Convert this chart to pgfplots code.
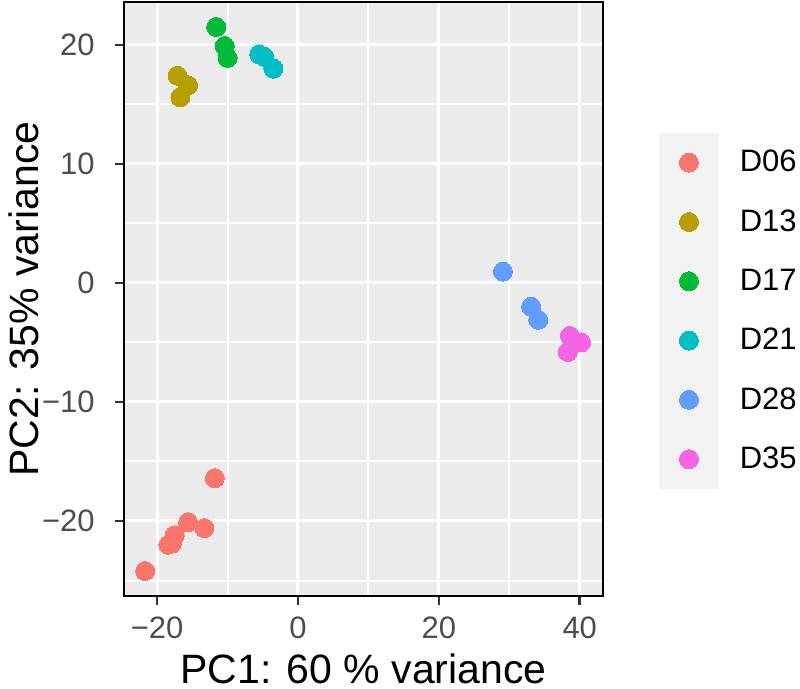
\documentclass[border=0pt]{standalone}
\usepackage{fontspec}
\setmainfont{Liberation Sans}
\usepackage{pgfplots}
\pgfplotsset{compat=1.18}
\definecolor{c1}{HTML}{F8766D}
\definecolor{c2}{HTML}{B79F00}
\definecolor{c3}{HTML}{00BA38}
\definecolor{c4}{HTML}{00BFC4}
\definecolor{c5}{HTML}{619CFF}
\definecolor{c6}{HTML}{F564E3}
\definecolor{panel}{HTML}{EBEBEB}
\definecolor{keybg}{HTML}{F2F2F2}
\definecolor{ticklab}{HTML}{4D4D4D}
\definecolor{tickc}{HTML}{333333}
\begin{document}
\begin{tikzpicture}
\useasboundingbox (-62pt,-46.5pt) rectangle (338pt,298pt);
\begin{axis}[
  at={(0pt,0pt)}, anchor=south west,
  scale only axis, width=239.5pt, height=297pt,
  xmin=-24.7, xmax=43.3, ymin=-26.3, ymax=23.6,
  axis background/.style={fill=panel},
  xtick={-20,0,20,40}, xticklabels={−20,0,20,40},
  ytick={-20,-10,0,10,20}, yticklabels={−20,−10,0,10,20},
  minor xtick={-10,10,30}, minor ytick={-25,-15,-5,5,15},
  grid=both,
  major grid style={white, line width=1.5pt},
  minor grid style={white, line width=1pt},
  tick align=outside,
  major tick length=4.5pt,
  minor tick length=0pt,
  tick style={tickc, line width=1.3pt},
  xtick pos=lower, ytick pos=left,
  axis line style={black, line width=1pt},
  xticklabel style={font=\fontsize{15.5}{15.5}\selectfont, text=ticklab, inner sep=0pt, anchor=north, yshift=-5.5pt},
  yticklabel style={font=\fontsize{15.5}{15.5}\selectfont, text=ticklab, inner sep=0pt, anchor=east, xshift=-10pt},
  xlabel={PC1: 60 \% variance},
  ylabel={PC2: 35\% variance},
  xlabel style={font=\fontsize{20.5}{20.5}\selectfont, at={(axis description cs:0.5,-0.1225)}, anchor=center},
  ylabel style={font=\fontsize{20.5}{20.5}\selectfont, at={(axis description cs:-0.2088,0.5)}, anchor=center},
  legend style={at={(1.117,0.7795)}, anchor=north west, draw=none, fill=none, inner sep=0pt, outer sep=0pt, row sep=0pt, column sep=10.5pt, font=\fontsize{15.5}{15.5}\selectfont, nodes={inner sep=0pt}, cells={anchor=west}},
  legend image code/.code={\fill[keybg] (0pt,-14.625pt) rectangle (29.5pt,14.625pt); \draw[mark repeat=1,mark phase=1,#1] plot coordinates {(14.75pt,0pt)};},
  every axis plot/.append style={only marks, mark=*, mark size=4.75pt},
]
\addplot[c1, mark options={draw=c1, fill=c1, line width=0pt}] coordinates {(-11.8,-16.4) (-15.6,-20.1) (-13.3,-20.6) (-17.5,-21.2) (-18.4,-22.0) (-17.9,-21.9) (-21.7,-24.2)};
\addlegendentry{D06}
\addplot[c2, mark options={draw=c2, fill=c2, line width=0pt}] coordinates {(-17.1,17.4) (-15.6,16.6) (-16.7,15.6)};
\addlegendentry{D13}
\addplot[c3, mark options={draw=c3, fill=c3, line width=0pt}] coordinates {(-11.6,21.5) (-10.4,19.9) (-10.0,18.9)};
\addlegendentry{D17}
\addplot[c4, mark options={draw=c4, fill=c4, line width=0pt}] coordinates {(-5.5,19.2) (-4.8,19.0) (-3.5,18.0)};
\addlegendentry{D21}
\addplot[c5, mark options={draw=c5, fill=c5, line width=0pt}] coordinates {(29.1,0.95) (33.1,-2.0) (34.1,-3.1)};
\addlegendentry{D28}
\addplot[c6, mark options={draw=c6, fill=c6, line width=0pt}] coordinates {(38.6,-4.45) (40.2,-5.0) (38.3,-5.8)};
\addlegendentry{D35}
\end{axis}
\end{tikzpicture}
\end{document}
